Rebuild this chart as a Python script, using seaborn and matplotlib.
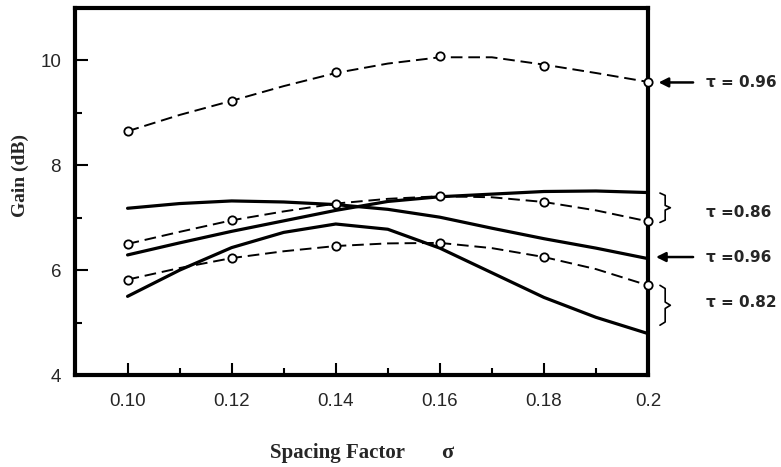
import matplotlib
matplotlib.use("Agg")
import matplotlib.pyplot as plt
import seaborn as sns

# measured points (open circles)
x_pts = [0.10, 0.12, 0.14, 0.16, 0.18, 0.20]
gain_096_pts = [8.65, 9.22, 9.77, 10.08, 9.89, 9.59]
gain_086_pts = [6.50, 6.95, 7.27, 7.41, 7.30, 6.93]
gain_082_pts = [5.82, 6.23, 6.46, 6.52, 6.25, 5.71]

# curves every 0.01
x_curve = [0.10, 0.11, 0.12, 0.13, 0.14, 0.15, 0.16, 0.17, 0.18, 0.19, 0.20]
dash_096 = [8.65, 8.96, 9.23, 9.51, 9.76, 9.94, 10.06, 10.06, 9.92, 9.76, 9.59]
dash_086 = [6.50, 6.73, 6.95, 7.12, 7.27, 7.36, 7.41, 7.39, 7.30, 7.14, 6.93]
dash_082 = [5.82, 6.04, 6.23, 6.36, 6.46, 6.51, 6.52, 6.42, 6.25, 6.02, 5.71]
solid_096 = [7.18, 7.27, 7.32, 7.30, 7.25, 7.16, 7.01, 6.80, 6.60, 6.42, 6.22]
solid_086 = [6.29, 6.52, 6.74, 6.94, 7.14, 7.31, 7.40, 7.45, 7.50, 7.51, 7.48]
solid_082 = [5.50, 6.00, 6.43, 6.72, 6.88, 6.78, 6.42, 5.95, 5.48, 5.10, 4.79]

x_major = [0.10, 0.12, 0.14, 0.16, 0.18, 0.20]
x_labels = ["0.10", "0.12", "0.14", "0.16", "0.18", "0.2"]
x_minor = [0.11, 0.13, 0.15, 0.17, 0.19]
y_major = [4, 6, 8, 10]
y_minor = [5, 7, 9]

sns.set_style("ticks")
plt.rcParams["font.family"] = ["Liberation Sans", "DejaVu Sans"]

fig = plt.figure(figsize=(7.81, 4.67), dpi=100)
ax = fig.add_axes([75 / 781, 1 - 375 / 467, 573 / 781, 367 / 467])

dash = (0, (6, 3))
for ys in [dash_096, dash_086, dash_082]:
    sns.lineplot(x=x_curve, y=ys, ax=ax, color="black", linewidth=1.4, linestyle=dash)
for ys in [solid_096, solid_086, solid_082]:
    sns.lineplot(x=x_curve, y=ys, ax=ax, color="black", linewidth=2.3)
for ys in [gain_096_pts, gain_086_pts, gain_082_pts]:
    sns.scatterplot(x=x_pts, y=ys, ax=ax, s=36, facecolor="white", edgecolor="black",
                    linewidth=1.3, zorder=5, clip_on=False)

ax.set_xlim(0.0899, 0.2)
ax.set_ylim(4, 11)
ax.set_xticks(x_major)
ax.set_xticklabels(x_labels)
ax.set_xticks(x_minor, minor=True)
ax.set_yticks(y_major)
ax.set_yticks(y_minor, minor=True)
ax.tick_params(which="major", direction="in", length=9, width=1.5, labelsize=13.5, color="black")
ax.tick_params(which="minor", direction="in", length=5, width=1.5, color="black")
ax.tick_params(axis="x", which="major", pad=13)
ax.tick_params(axis="y", which="major", pad=10)
for side in ["left", "right", "top", "bottom"]:
    ax.spines[side].set_visible(True)
    ax.spines[side].set_linewidth(3)
    ax.spines[side].set_color("black")

ax.set_ylabel("Gain (dB)", fontsize=14, fontweight="bold", family="Liberation Serif")
ax.yaxis.set_label_coords(-0.08, (7.8 - 4) / 7)
ax.set_xlabel("")
fig.text(338 / 781, 1 - 453 / 467, "Spacing Factor", ha="center", va="center",
         fontsize=15, fontweight="bold", family="Liberation Serif")
fig.text(447 / 781, 1 - 453 / 467, "σ", ha="center", va="center",
         fontsize=16, fontweight="bold", family="Liberation Serif")

# right-side annotations
lab = dict(fontsize=11, fontweight="bold", family="DejaVu Sans", va="center", ha="left",
           annotation_clip=False)
ax.annotate("", xy=(0.2015, 9.58), xytext=(0.2092, 9.58), annotation_clip=False,
            arrowprops=dict(arrowstyle="-|>", color="black", lw=1.8, mutation_scale=14))
ax.annotate("τ = 0.96", xy=(0.2111, 9.58), **lab)
ax.annotate("", xy=(0.2010, 6.25), xytext=(0.2092, 6.25), annotation_clip=False,
            arrowprops=dict(arrowstyle="-|>", color="black", lw=1.8, mutation_scale=14))
ax.annotate("τ =0.96", xy=(0.2111, 6.25), **lab)
ax.annotate("τ =0.86", xy=(0.2111, 7.10), **lab)
ax.annotate("τ = 0.82", xy=(0.2111, 5.39), **lab)


def brace(y_top, y_bot, x0=0.2023, w=0.0010):
    mid = (y_top + y_bot) / 2
    d = (y_top - y_bot) * 0.08
    xs = [x0, x0 + w, x0 + w, x0 + 2 * w, x0 + w, x0 + w, x0]
    ys = [y_top, y_top - d, mid + d, mid, mid - d, y_bot + d, y_bot]
    ax.plot(xs, ys, color="black", lw=1.2, clip_on=False)


brace(7.47, 6.91)
brace(5.71, 4.95)

fig.savefig("out.png", dpi=100)
